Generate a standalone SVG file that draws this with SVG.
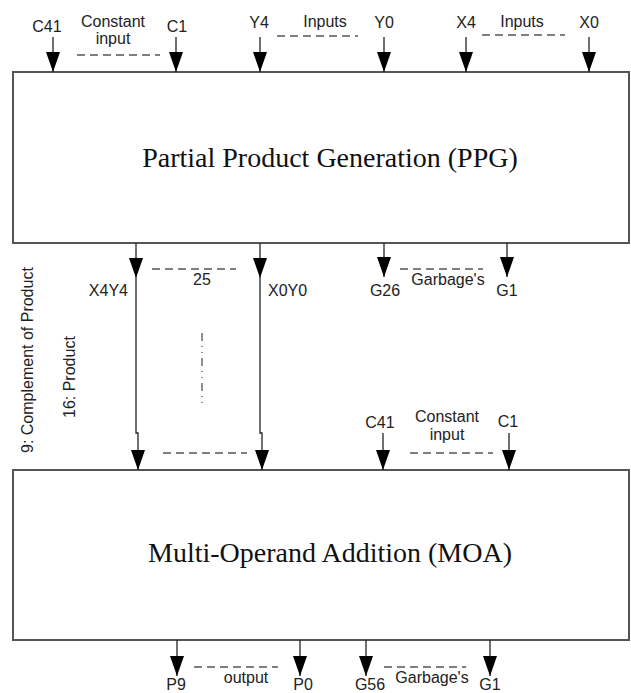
<svg xmlns="http://www.w3.org/2000/svg" width="631" height="693" viewBox="0 0 631 693">
<style>
.box{fill:#fff;stroke:#555;stroke-width:2}
.title{font-family:"Liberation Serif","Times New Roman",serif;font-size:28px;fill:#111;text-anchor:middle}
.lbl{font-family:"Liberation Sans",Arial,sans-serif;font-size:16px;fill:#222;text-anchor:middle}
.lbl-s{font-family:"Liberation Sans",Arial,sans-serif;font-size:16px;fill:#222;text-anchor:start}
.lbl-e{font-family:"Liberation Sans",Arial,sans-serif;font-size:16px;fill:#222;text-anchor:end}
.arr{stroke:#222;stroke-width:1.3;fill:none;marker-end:url(#ah)}
.dash{stroke:#555;stroke-width:1.5;stroke-dasharray:8 5;fill:none}
</style>
<defs>
<marker id="ah" markerUnits="userSpaceOnUse" markerWidth="20" markerHeight="14" viewBox="0 0 20 14" refX="20" refY="7" orient="auto">
<path d="M0,0 L20,7 L0,14 Z" fill="#000"/>
</marker>
</defs>
<rect width="631" height="693" fill="#fff"/>
<g id="ppg">
<rect class="box" x="13" y="72" width="616" height="171"/>
<text class="title" x="330" y="167">Partial Product Generation (PPG)</text>
</g>
<g id="moa">
<rect class="box" x="13" y="470" width="616" height="170"/>
<text class="title" x="330" y="562">Multi-Operand Addition (MOA)</text>
</g>
<g id="connectors">
<line class="arr" x1="53" y1="37" x2="53" y2="72"/>
<line class="arr" x1="176" y1="37" x2="176" y2="72"/>
<line class="arr" x1="260" y1="37" x2="260" y2="72"/>
<line class="arr" x1="384" y1="37" x2="384" y2="72"/>
<line class="arr" x1="466" y1="37" x2="466" y2="72"/>
<line class="arr" x1="589" y1="37" x2="589" y2="72"/>
<line class="arr" x1="136" y1="243" x2="136" y2="278"/>
<line class="arr" x1="260" y1="243" x2="260" y2="278"/>
<polyline class="arr" points="136,278 136,433 138,433 138,470"/>
<polyline class="arr" points="260,278 260,433 262,433 262,470"/>
<line class="arr" x1="384" y1="243" x2="384" y2="277"/>
<line class="arr" x1="507" y1="243" x2="507" y2="277"/>
<line class="arr" x1="383" y1="433" x2="383" y2="470"/>
<line class="arr" x1="509" y1="433" x2="509" y2="470"/>
<line class="arr" x1="177" y1="640" x2="177" y2="676"/>
<line class="arr" x1="300" y1="640" x2="300" y2="676"/>
<line class="arr" x1="366" y1="640" x2="366" y2="676"/>
<line class="arr" x1="490" y1="640" x2="490" y2="676"/>
<line class="dash" x1="77" y1="55" x2="160" y2="55"/>
<line class="dash" x1="277" y1="36" x2="358" y2="36"/>
<line class="dash" x1="482" y1="35" x2="565" y2="35"/>
<line class="dash" x1="152" y1="269" x2="236" y2="269"/>
<line class="dash" x1="400" y1="269" x2="483" y2="269"/>
<line class="dash" x1="163" y1="453" x2="247" y2="453"/>
<line class="dash" x1="410" y1="453" x2="493" y2="453"/>
<line class="dash" x1="194" y1="667" x2="278" y2="667"/>
<line class="dash" x1="384" y1="667" x2="466" y2="667"/>
<line x1="202" y1="333" x2="202" y2="408" stroke="#555" stroke-width="1.3" stroke-dasharray="8 5 1 5 1 5"/>
</g>
<g id="labels">
<text class="lbl" x="47" y="32">C41</text>
<text class="lbl" x="113" y="27">Constant</text>
<text class="lbl" x="113" y="44">input</text>
<text class="lbl" x="177" y="32">C1</text>
<text class="lbl" x="259" y="28">Y4</text>
<text class="lbl" x="325" y="27">Inputs</text>
<text class="lbl" x="384" y="28">Y0</text>
<text class="lbl" x="466" y="28">X4</text>
<text class="lbl" x="522" y="27">Inputs</text>
<text class="lbl" x="589" y="28">X0</text>
<text class="lbl" x="202" y="285">25</text>
<text class="lbl-e" x="128" y="296">X4Y4</text>
<text class="lbl-s" x="268" y="296">X0Y0</text>
<text class="lbl" x="385" y="296">G26</text>
<text class="lbl" x="448" y="285">Garbage's</text>
<text class="lbl" x="507" y="296">G1</text>
<text class="lbl-s" transform="translate(33,453) rotate(-90)">9: Complement of Product</text>
<text class="lbl-s" transform="translate(75,418) rotate(-90)">16: Product</text>
<text class="lbl" x="380" y="428">C41</text>
<text class="lbl" x="447" y="422">Constant</text>
<text class="lbl" x="447" y="440">input</text>
<text class="lbl" x="508" y="427">C1</text>
<text class="lbl" x="176" y="690">P9</text>
<text class="lbl" x="246" y="683">output</text>
<text class="lbl" x="303" y="690">P0</text>
<text class="lbl" x="370" y="690">G56</text>
<text class="lbl" x="432" y="683">Garbage's</text>
<text class="lbl" x="490" y="690">G1</text>
</g>
</svg>
